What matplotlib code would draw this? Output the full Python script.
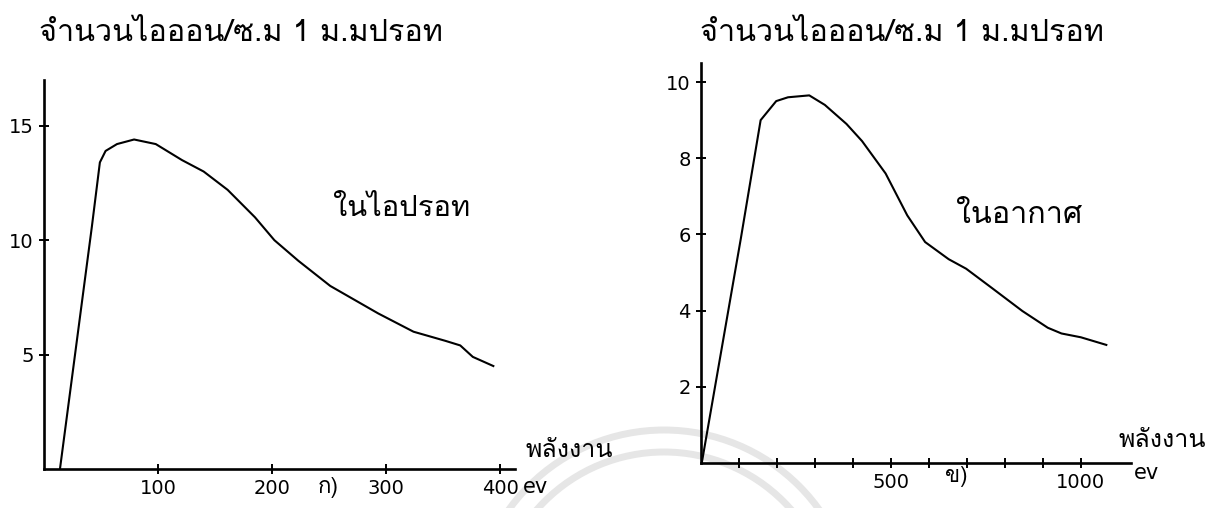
import matplotlib
matplotlib.use('Agg')
import matplotlib.pyplot as plt
from matplotlib import font_manager
from matplotlib.ft2font import FT2Font
from matplotlib.patches import Circle

# ions per cm at 1 mm Hg against electron energy (eV)
energy_hg = [14, 42, 49, 54, 64, 79, 98, 121, 140, 161, 185, 202, 223, 251, 272, 293, 324, 352, 365, 376, 394]
ions_hg = [0, 10.6, 13.4, 13.9, 14.2, 14.4, 14.2, 13.5, 13.0, 12.2, 11.0, 10.0, 9.1, 8.0, 7.4, 6.8, 6.0, 5.6, 5.4, 4.9, 4.5]

energy_air = [2, 105, 157, 198, 229, 285, 326, 383, 424, 486, 543, 590, 652, 698, 765, 846, 913, 949, 1000, 1067]
ions_air = [0, 5.9, 9.0, 9.5, 9.6, 9.65, 9.4, 8.9, 8.45, 7.6, 6.5, 5.8, 5.35, 5.1, 4.6, 3.99, 3.55, 3.4, 3.3, 3.1]

xticks_hg = [100, 200, 300, 400]
yticks_hg = [5, 10, 15]
xticks_air = [100, 200, 300, 400, 500, 600, 700, 800, 900, 1000]
xlabels_air = ['', '', '', '', '500', '', '', '', '', '1000']
yticks_air = [2, 4, 6, 8, 10]

title = 'จำนวนไอออน/ซ.ม 1 ม.มปรอท'
label_hg = 'ในไอปรอท'
label_air = 'ในอากาศ'
xname = 'พลังงาน'
unit = 'ev'


def thai_family():
    # first installed font that has Thai glyphs
    for f in font_manager.fontManager.ttflist:
        try:
            if 0x0E08 in FT2Font(f.fname).get_charmap():
                return f.name
        except Exception:
            continue
    return 'DejaVu Sans'


fams = [thai_family(), 'DejaVu Sans']
plt.rcParams['font.family'] = ['DejaVu Sans']

fig = plt.figure(figsize=(12.24, 5.08), dpi=100)

# faint round stamp from the scan
bg = fig.add_axes([0, 0, 1, 1], zorder=-1)
bg.set_xlim(0, 1224)
bg.set_ylim(508, 0)
bg.axis('off')
for r in (191, 169):
    bg.add_patch(Circle((664, 621), r, fill=False, lw=5, color='#e6e6e6'))

ax1 = fig.add_axes([44 / 1224, 39 / 508, 471 / 1224, 389 / 508])
ax2 = fig.add_axes([701 / 1224, 45 / 508, 430 / 1224, 400 / 508])

for ax in (ax1, ax2):
    ax.patch.set_alpha(0)
    for s in ('top', 'right'):
        ax.spines[s].set_visible(False)
    for s in ('left', 'bottom'):
        ax.spines[s].set_linewidth(1.9)
        ax.spines[s].set_color('black')
    ax.tick_params(direction='inout', length=7, width=1.4, labelsize=14, pad=4)

ax1.plot(energy_hg, ions_hg, color='black', lw=1.5)
ax1.set_xlim(0, 413)
ax1.set_ylim(0, 17)
ax1.set_xticks(xticks_hg)
ax1.set_yticks(yticks_hg)

ax2.plot(energy_air, ions_air, color='black', lw=1.5)
ax2.set_xlim(0, 1132)
ax2.set_ylim(0, 10.5)
ax2.set_xticks(xticks_air)
ax2.set_xticklabels(xlabels_air)
ax2.set_yticks(yticks_air)

ax1.text(253, 11.4, label_hg, family=fams, fontsize=21, ha='left', va='center')
ax2.text(670, 6.5, label_air, family=fams, fontsize=22, ha='left', va='center')

ax1.text(422, 0.8, xname, family=fams, fontsize=18, ha='left', va='center', clip_on=False)
ax1.text(420, -0.8, unit, fontsize=15, ha='left', va='center', clip_on=False)
ax1.text(249, -0.8, 'ก)', family=fams, fontsize=16, ha='center', va='center', clip_on=False)

ax2.text(1098, 0.6, xname, family=fams, fontsize=18, ha='left', va='center', clip_on=False)
ax2.text(1140, -0.25, unit, fontsize=15, ha='left', va='center', clip_on=False)
ax2.text(671, -0.35, 'ข)', family=fams, fontsize=16, ha='center', va='center', clip_on=False)

fig.text(39 / 1224, 1 - 33 / 508, title, family=fams, fontsize=22, ha='left', va='center')
fig.text(700 / 1224, 1 - 33 / 508, title, family=fams, fontsize=22, ha='left', va='center')

fig.savefig('out.png', dpi=100)
